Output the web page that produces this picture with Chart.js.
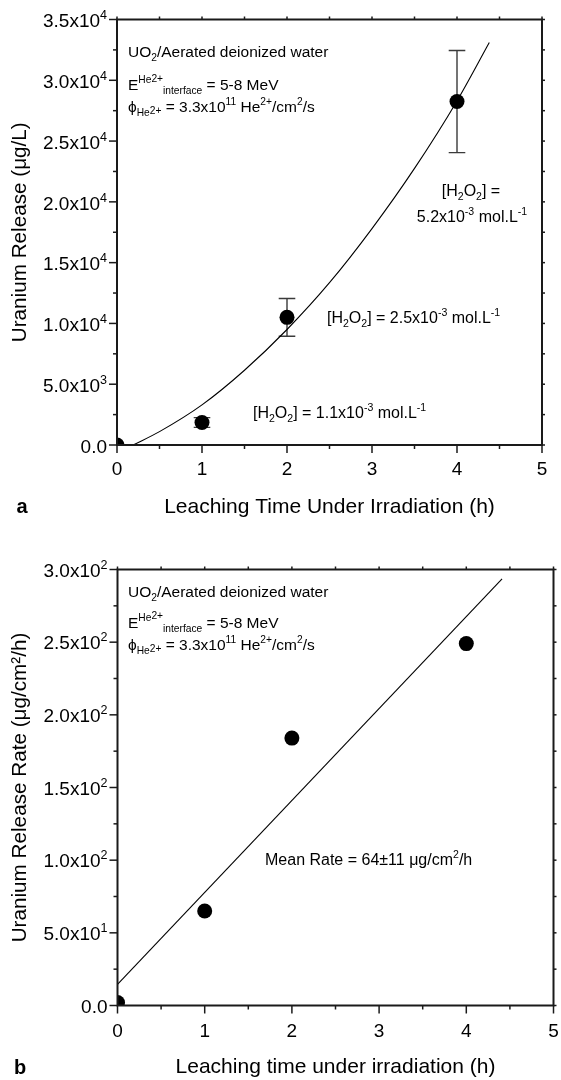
<!DOCTYPE html>
<html>
<head>
<meta charset="utf-8">
<script src="https://cdn.jsdelivr.net/npm/chart.js@4.4.1/dist/chart.umd.min.js"></script>
<style>
  html, body { margin: 0; padding: 0; background: #fff; }
  body { width: 561px; height: 1080px; position: relative; overflow: hidden; }
  canvas { position: absolute; left: 0; }
  #cA { top: 0; }
  #cB { top: 540px; }
</style>
</head>
<body>
<canvas id="cA" width="561" height="540"></canvas>
<canvas id="cB" width="561" height="540"></canvas>
<script>
// ---------- DATA (panel a) ----------
const timeA = [0, 1, 2, 4];
const releaseA = [0, 1850, 10500, 28250];
const errorA = [0, 400, 1550, 4200];
const fitTimeA = [0.19, 0.5, 1, 1.5, 2, 2.5, 3, 3.5, 4, 4.38];
const fitReleaseA = [0, 1100, 3300, 6150, 9500, 13350, 17800, 22750, 28300, 33100];
const yTickValsA = [0, 5000, 10000, 15000, 20000, 25000, 30000, 35000];
const yTickLabelsA = ['0.0', '5.0x10^{3}', '1.0x10^{4}', '1.5x10^{4}', '2.0x10^{4}', '2.5x10^{4}', '3.0x10^{4}', '3.5x10^{4}'];

// ---------- DATA (panel b) ----------
const timeB = [0, 1, 2, 4];
const rateB = [2, 65, 184, 249];
const lineTimeB = [0, 4.41];
const lineRateB = [14.6, 293.5];
const yTickValsB = [0, 50, 100, 150, 200, 250, 300];
const yTickLabelsB = ['0.0', '5.0x10^{1}', '1.0x10^{2}', '1.5x10^{2}', '2.0x10^{2}', '2.5x10^{2}', '3.0x10^{2}'];

// ---------- shared ----------
const xTickVals = [0, 1, 2, 3, 4, 5];
const xTickLabels = ['0', '1', '2', '3', '4', '5'];

const notesA = [
  { text: 'UO_{2}/Aerated deionized water', x: 128, y: 57, size: 15.5 },
  { text: 'E^{He}^^{2+}_{interface} = 5-8 MeV', x: 128, y: 90, size: 15.5 },
  { text: 'ϕ_{He}_^{2+} = 3.3x10^{11} He^{2+}/cm^{2}/s', x: 128, y: 112, size: 15.5 },
  { text: '[H_{2}O_{2}] =', x: 471, y: 195.5, align: 'center' },
  { text: '5.2x10^{-3} mol.L^{-1}', x: 472, y: 222, align: 'center' },
  { text: '[H_{2}O_{2}] = 2.5x10^{-3} mol.L^{-1}', x: 327, y: 323 },
  { text: '[H_{2}O_{2}] = 1.1x10^{-3} mol.L^{-1}', x: 253, y: 417.5 }
];
const notesB = [
  { text: 'UO_{2}/Aerated deionized water', x: 128, y: 597, size: 15.5 },
  { text: 'E^{He}^^{2+}_{interface} = 5-8 MeV', x: 128, y: 627.5, size: 15.5 },
  { text: 'ϕ_{He}_^{2+} = 3.3x10^{11} He^{2+}/cm^{2}/s', x: 128, y: 650, size: 15.5 },
  { text: 'Mean Rate = 64±11 μg/cm^{2}/h', x: 265, y: 864.5 }
];

const FONT = '"Liberation Sans", Arial, Helvetica, sans-serif';

// rich text: ^{..} sup, _{..} sub, ^^{..} sup-of-sup, _^{..} sup-of-sub
const KINDS = { n: [1, 0], sup: [0.66, -0.42], sub: [0.66, 0.26], ss: [0.66, -0.52], bs: [0.66, 0.14] };
function parseRich(s) {
  const segs = [];
  let i = 0, buf = '';
  const flush = () => { if (buf) { segs.push([buf, 'n']); buf = ''; } };
  while (i < s.length) {
    let kind = null, skip = 0;
    if (s.startsWith('^^{', i)) { kind = 'ss'; skip = 3; }
    else if (s.startsWith('_^{', i)) { kind = 'bs'; skip = 3; }
    else if (s.startsWith('^{', i)) { kind = 'sup'; skip = 2; }
    else if (s.startsWith('_{', i)) { kind = 'sub'; skip = 2; }
    if (kind) {
      flush();
      const end = s.indexOf('}', i + skip);
      segs.push([s.slice(i + skip, end), kind]);
      i = end + 1;
    } else { buf += s[i]; i++; }
  }
  flush();
  return segs;
}
function drawRich(ctx, str, x, y, size, align) {
  const segs = parseRich(str);
  let w = 0;
  const widths = segs.map(([t, k]) => {
    ctx.font = (size * KINDS[k][0]) + 'px ' + FONT;
    const m = ctx.measureText(t).width; w += m; return m;
  });
  let cx = align === 'right' ? x - w : align === 'center' ? x - w / 2 : x;
  ctx.textAlign = 'left';
  ctx.textBaseline = 'alphabetic';
  segs.forEach(([t, k], j) => {
    ctx.font = (size * KINDS[k][0]) + 'px ' + FONT;
    ctx.fillText(t, cx, y + size * KINDS[k][1]);
    cx += widths[j];
  });
}

const errorBarPlugin = {
  id: 'errbars',
  beforeDatasetsDraw(chart) {
    const { ctx, scales: { x, y } } = chart;
    ctx.save();
    ctx.strokeStyle = '#3a3a3a';
    ctx.lineWidth = 1.4;
    chart.data.datasets.forEach(ds => {
      if (!ds.errors) return;
      ds.data.forEach((pt, i) => {
        const e = ds.errors[i];
        if (!e) return;
        const px = x.getPixelForValue(pt.x);
        const p1 = y.getPixelForValue(pt.y - e);
        const p2 = y.getPixelForValue(pt.y + e);
        ctx.beginPath();
        ctx.moveTo(px, p1); ctx.lineTo(px, p2);
        ctx.moveTo(px - 8.3, p1); ctx.lineTo(px + 8.3, p1);
        ctx.moveTo(px - 8.3, p2); ctx.lineTo(px + 8.3, p2);
        ctx.stroke();
      });
    });
    ctx.restore();
  }
};

const framePlugin = {
  id: 'frame',
  afterDraw(chart) {
    const o = chart.options.plugins.frame;
    const { ctx, chartArea: a, scales: { x, y } } = chart;
    ctx.save();
    ctx.strokeStyle = '#1a1a1a';
    const seg = (x1, y1, x2, y2) => { ctx.beginPath(); ctx.moveTo(x1, y1); ctx.lineTo(x2, y2); ctx.stroke(); };
    // ticks
    ctx.lineWidth = 1.5;
    const yv = o.yVals, xv = xTickVals;
    yv.forEach((v, i) => {
      const p = y.getPixelForValue(v);
      seg(a.left, p, a.left - 8, p);
      seg(a.right, p, a.right + 3, p);
      if (i < yv.length - 1) {
        const q = y.getPixelForValue((v + yv[i + 1]) / 2);
        seg(a.left, q, a.left - 4, q);
        seg(a.right, q, a.right + 3, q);
      }
    });
    xv.forEach((v, i) => {
      const p = x.getPixelForValue(v);
      seg(p, a.bottom, p, a.bottom + 8);
      seg(p, a.top, p, a.top - 3);
      if (i < xv.length - 1) {
        const q = x.getPixelForValue((v + xv[i + 1]) / 2);
        seg(q, a.bottom, q, a.bottom + 4);
        seg(q, a.top, q, a.top - 3);
      }
    });
    // frame
    ctx.lineWidth = 2;
    ctx.strokeRect(a.left, a.top, a.right - a.left, a.bottom - a.top);
    // tick labels
    ctx.fillStyle = '#000';
    yv.forEach((v, i) => drawRich(ctx, o.yLabels[i], a.left - 10, y.getPixelForValue(v) + o.yLabDy, 19, 'right'));
    xv.forEach((v, i) => drawRich(ctx, xTickLabels[i], x.getPixelForValue(v), a.bottom + o.xLabDy, 19, 'center'));
    // annotations
    o.notes.forEach(n => drawRich(ctx, n.text, n.x, n.y - o.offsetTop, n.size || 16, n.align || 'left'));
    // panel letter
    ctx.font = 'bold 20px ' + FONT;
    ctx.textAlign = 'center';
    ctx.textBaseline = 'middle';
    ctx.fillText(o.letter, o.letterX, o.letterY - o.offsetTop);
    ctx.restore();
  }
};

function makeChart(id, cfg) {
  return new Chart(document.getElementById(id), {
    type: 'scatter',
    data: {
      datasets: [
        {
          type: 'line',
          data: cfg.lineX.map((v, i) => ({ x: v, y: cfg.lineY[i] })),
          borderColor: '#000', borderWidth: 1.1, pointRadius: 0, fill: false,
          cubicInterpolationMode: 'monotone', clip: 0, order: 2
        },
        {
          data: cfg.ptX.map((v, i) => ({ x: v, y: cfg.ptY[i] })),
          errors: cfg.err,
          pointRadius: 7.5, pointHoverRadius: 7.5, backgroundColor: '#000', borderWidth: 0,
          clip: 0, order: 1
        }
      ]
    },
    options: {
      responsive: false, animation: false, events: [],
      layout: { padding: cfg.padding },
      plugins: {
        legend: { display: false }, tooltip: { enabled: false },
        frame: { yVals: cfg.yVals, yLabels: cfg.yLabels, notes: cfg.notes, offsetTop: cfg.offsetTop,
                 letter: cfg.letter, letterX: cfg.letterX, letterY: cfg.letterY, yLabDy: cfg.yLabDy, xLabDy: cfg.xLabDy }
      },
      scales: {
        x: {
          type: 'linear', min: 0, max: 5,
          grid: { display: false }, border: { display: false },
          ticks: { display: false, stepSize: 1 },
          title: { display: true, text: cfg.xTitle, color: '#000', font: { size: 21, family: FONT }, padding: { top: 0, bottom: cfg.xTitlePad } },
          afterFit(s) { s.height = cfg.xHeight; }
        },
        y: {
          type: 'linear', min: 0, max: cfg.yMax,
          grid: { display: false }, border: { display: false },
          ticks: { display: false },
          title: { display: true, text: cfg.yTitle, color: '#000', font: { size: 20.7, family: FONT }, padding: { top: 7.5, bottom: 0 } },
          afterFit(s) { s.width = cfg.yWidth; }
        }
      }
    },
    plugins: [errorBarPlugin, framePlugin]
  });
}

makeChart('cA', {
  lineX: fitTimeA, lineY: fitReleaseA, ptX: timeA, ptY: releaseA, err: errorA,
  yMax: 35000, yVals: yTickValsA, yLabels: yTickLabelsA, notes: notesA, offsetTop: 0,
  letter: 'a', letterX: 22, letterY: 507, yLabDy: 7.8, xLabDy: 29.8,
  padding: { top: 19.5, right: 19, left: 0, bottom: 0 },
  xHeight: 95, yWidth: 117, xTitlePad: 20.4,
  xTitle: 'Leaching Time Under Irradiation (h)', yTitle: 'Uranium Release (μg/L)'
});

makeChart('cB', {
  lineX: lineTimeB, lineY: lineRateB, ptX: timeB, ptY: rateB, err: null,
  yMax: 300, yVals: yTickValsB, yLabels: yTickLabelsB, notes: notesB, offsetTop: 540,
  letter: 'b', letterX: 20, letterY: 1068, yLabDy: 7.3, xLabDy: 31,
  padding: { top: 29.5, right: 6, left: 0, bottom: 0 },
  xHeight: 74.5, yWidth: 117.5, xTitlePad: 0,
  xTitle: 'Leaching time under irradiation (h)', yTitle: 'Uranium Release Rate (μg/cm²/h)'
});
</script>
</body>
</html>
